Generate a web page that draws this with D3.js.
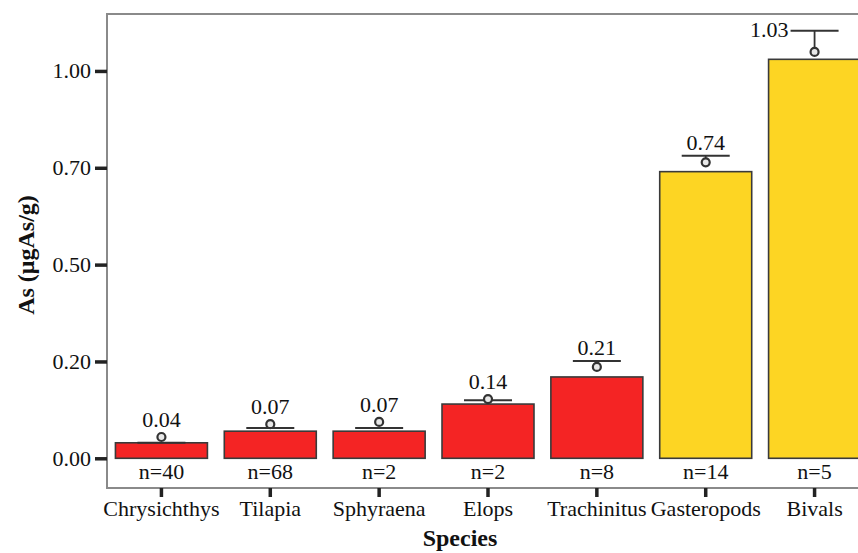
<!DOCTYPE html>
<html>
<head>
<meta charset="utf-8">
<script src="https://cdn.jsdelivr.net/npm/d3@7/dist/d3.min.js"></script>
<style>
  html, body { margin: 0; padding: 0; background: #fff; overflow: hidden; }
  svg { display: block; font-family: "Liberation Serif", "Times New Roman", serif; }
</style>
</head>
<body>
<svg id="chart" width="858" height="553"></svg>
<script>
// Mean arsenic concentration by species (µgAs/g)
const species = ["Chrysichthys", "Tilapia", "Sphyraena", "Elops", "Trachinitus", "Gasteropods", "Bivals"];
const means   = [0.04, 0.07, 0.07, 0.14, 0.21, 0.74, 1.03];
const markers = [0.055, 0.088, 0.094, 0.153, 0.236, 0.764, 1.049];
const upper   = [0.040, 0.078, 0.078, 0.150, 0.251, 0.781, 1.104];
const counts  = [40, 68, 2, 2, 8, 14, 5];
const groups  = ["fish", "fish", "fish", "fish", "fish", "mollusc", "mollusc"];

// Axis ticks and the labels printed beside them
const tickValues = [0, 0.25, 0.5, 0.75, 1.0];
const tickLabels = ["0.00", "0.20", "0.50", "0.70", "1.00"];

const colors = { fish: "#f42424", mollusc: "#fdd523" };
const serif = "'Liberation Serif', 'Times New Roman', serif";
const labelSize = 22;

const svg = d3.select("#chart");
const plotLeft = 107, plotTop = 14, plotBottom = 488, plotRight = 869;

const x = d3.scaleBand()
  .domain(species)
  .range([plotLeft, plotRight])
  .paddingInner(0.155)
  .paddingOuter(0.0775);

const y = d3.scaleLinear()
  .domain([-0.0767, 1.147])
  .range([plotBottom, plotTop]);

// Frame
svg.append("rect")
  .attr("x", plotLeft).attr("y", plotTop)
  .attr("width", plotRight - plotLeft).attr("height", plotBottom - plotTop)
  .attr("fill", "none").attr("stroke", "#8a8a8a").attr("stroke-width", 2);

// Y axis
const yAxis = d3.axisLeft(y)
  .tickValues(tickValues)
  .tickFormat((d, i) => tickLabels[i])
  .tickSize(12).tickPadding(4);
const ya = svg.append("g").attr("transform", `translate(${plotLeft},0)`).call(yAxis);
ya.select(".domain").remove();
ya.selectAll(".tick line").attr("stroke", "#222").attr("stroke-width", 3.5);
ya.selectAll(".tick text")
  .attr("font-family", serif)
  .attr("font-size", labelSize).attr("fill", "#111");

// X axis
const xAxis = d3.axisBottom(x).tickSize(9).tickPadding(5);
const xa = svg.append("g").attr("transform", `translate(0,${plotBottom})`).call(xAxis);
xa.select(".domain").remove();
xa.selectAll(".tick line").attr("stroke", "#222").attr("stroke-width", 3.5);
xa.selectAll(".tick text")
  .attr("font-family", serif)
  .attr("font-size", labelSize).attr("fill", "#111")
  .attr("dy", "0.62em");

const data = species.map((s, i) => ({
  s, mean: means[i], marker: markers[i], up: upper[i], n: counts[i], g: groups[i]
}));

// Bars
svg.append("g").selectAll("rect").data(data).join("rect")
  .attr("x", d => x(d.s))
  .attr("y", d => y(d.mean))
  .attr("width", x.bandwidth())
  .attr("height", d => y(0) - y(d.mean))
  .attr("fill", d => colors[d.g])
  .attr("stroke", "#3a3a3a").attr("stroke-width", 1.6);

// Error bars with mean markers
const capHalf = 24;
const eb = svg.append("g").selectAll("g").data(data).join("g")
  .attr("transform", d => `translate(${x(d.s) + x.bandwidth() / 2},0)`);
eb.append("line")
  .attr("x1", 0).attr("x2", 0)
  .attr("y1", d => y(d.marker)).attr("y2", d => y(Math.max(d.up, d.marker)))
  .attr("stroke", "#333").attr("stroke-width", 1.8);
eb.append("line")
  .attr("x1", -capHalf).attr("x2", capHalf)
  .attr("y1", d => y(d.up)).attr("y2", d => y(d.up))
  .attr("stroke", "#333").attr("stroke-width", 2);
eb.append("circle")
  .attr("cy", d => y(d.marker)).attr("r", 4)
  .attr("fill", "#e8e8e8").attr("stroke", "#333").attr("stroke-width", 2.2);

// Value labels: above the error bar, or beside the cap when there is no room
eb.append("text")
  .attr("font-size", labelSize).attr("fill", "#111")
  .each(function(d) {
    const t = d3.select(this);
    const base = Math.min(y(d.up), y(d.marker) - 4) - 6;
    if (base - 16 < plotTop + 4) {
      t.attr("x", -capHalf - 2).attr("y", y(d.up) + 6).attr("text-anchor", "end");
    } else {
      t.attr("x", 0).attr("y", base).attr("text-anchor", "middle");
    }
  })
  .text(d => d3.format(".2f")(d.mean));

// Sample sizes below the bars
eb.append("text")
  .attr("x", 0).attr("y", 479)
  .attr("text-anchor", "middle")
  .attr("font-size", labelSize).attr("fill", "#111")
  .text(d => "n=" + d.n);

// Axis titles
svg.append("text")
  .attr("x", 460).attr("y", 546)
  .attr("text-anchor", "middle")
  .attr("font-size", 24).attr("font-weight", "bold").attr("fill", "#111")
  .text("Species");
svg.append("text")
  .attr("transform", "translate(34,255) rotate(-90)")
  .attr("text-anchor", "middle")
  .attr("font-size", 24).attr("font-weight", "bold").attr("fill", "#111")
  .text("As (μgAs/g)");
</script>
</body>
</html>
